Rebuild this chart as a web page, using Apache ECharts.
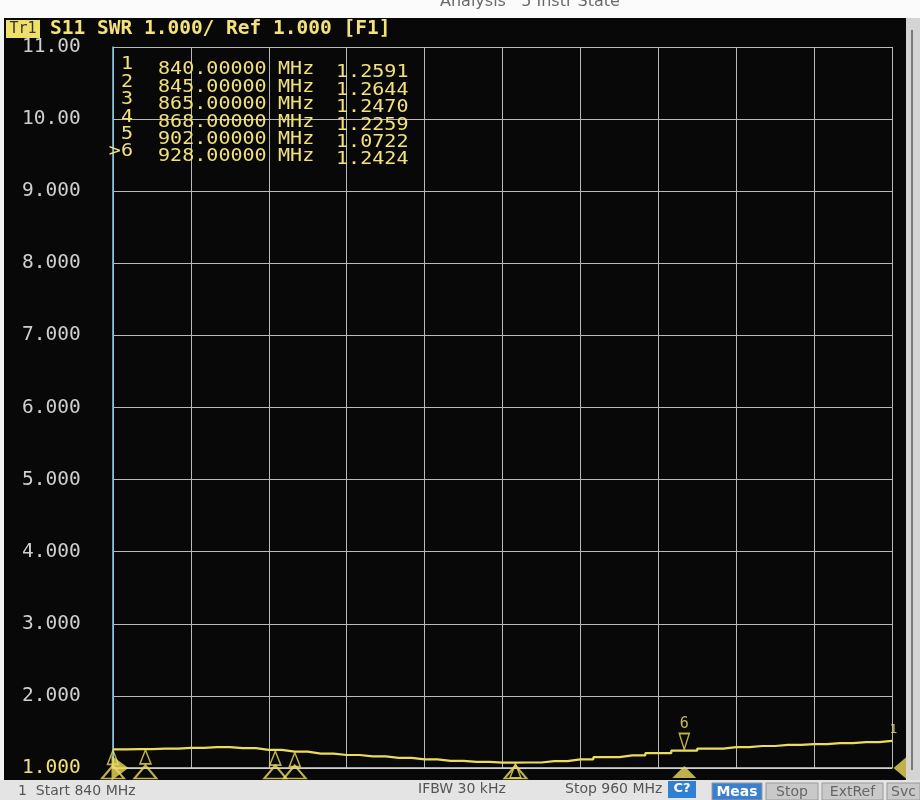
<!DOCTYPE html>
<html>
<head>
<meta charset="utf-8">
<script src="https://cdn.jsdelivr.net/npm/echarts@6/dist/echarts.min.js"></script>
<style>
html,body{margin:0;padding:0;background:#f2f2f2;}
#c{width:920px;height:800px;}
</style>
</head>
<body>
<div id="c"></div>
<script>
// ---- data ----
const freqs = [840,844,848,852,856,860,864,868,872,876,880,884,888,892,896,900,904,908,912,916,920,924,928,932,936,940,944,948,952,956,960];
const swr   = [1.259,1.262,1.270,1.280,1.290,1.275,1.252,1.226,1.200,1.180,1.160,1.140,1.120,1.100,1.085,1.075,1.076,1.095,1.120,1.150,1.175,1.205,1.242,1.270,1.290,1.305,1.320,1.330,1.345,1.360,1.375];
const markerIds    = ['1','2','3','4','5','>6'];
const markerFreqs  = [840,845,865,868,902,928];
const markerSwr    = [1.2591,1.2644,1.2470,1.2259,1.0722,1.2424];
const yTickLabels  = ['1.000','2.000','3.000','4.000','5.000','6.000','7.000','8.000','9.000','10.00','11.00'];
const headerText   = 'S11 SWR 1.000/ Ref 1.000 [F1]';
const traceTag     = 'Tr1';
const startText    = '1  Start 840 MHz';
const ifbwText     = 'IFBW 30 kHz';
const stopText     = 'Stop 960 MHz';
const topText      = 'Analysis   5 Instr State';
const softKeys     = ['Meas','Stop','ExtRef','Svc'];

const YEL = '#ecdc5c';
const TXT = '#f3e27a';
const MONO = '"DejaVu Sans Mono", "Liberation Mono", monospace';
const SANS = '"DejaVu Sans", "Liberation Sans", sans-serif';

const chart = echarts.init(document.getElementById('c'), null, {renderer:'canvas'});

const activeIdx = markerIds.length - 1;
const passive = markerFreqs.slice(0, activeIdx).map((f,i)=>[f, markerSwr[i]]);
const activePt = [[markerFreqs[activeIdx], markerSwr[activeIdx]]];

const graphics = [
  {type:'rect', shape:{x:0,y:0,width:920,height:20}, style:{fill:'#fbfbfb'}, z:0},
  {type:'text', x:440, y:-6, style:{text:topText, font:'16px '+SANS, fill:'#6a6a6a'}, z:1},
  {type:'rect', shape:{x:4,y:18,width:902,height:762}, style:{fill:'#080808'}, z:0},
  {type:'rect', shape:{x:906,y:18,width:14,height:762}, style:{fill:'#d4d4d4'}, z:0},
  {type:'rect', shape:{x:911,y:30,width:2,height:740}, style:{fill:'#7a7a7a'}, z:0},
  {type:'rect', shape:{x:0,y:780,width:920,height:20}, style:{fill:'#e4e4e4'}, z:0},
  {type:'rect', shape:{x:6,y:20,width:34,height:18}, style:{fill:'#efe06a'}, z:2},
  {type:'text', x:23, y:29, style:{text:traceTag, font:'15px '+MONO, fill:'#333', align:'center', verticalAlign:'middle'}, z:3},
  {type:'text', x:50, y:29, style:{text:headerText, font:'bold 19.5px '+MONO, fill:TXT, verticalAlign:'middle'}, z:3},
  {type:'text', x:18, y:791, style:{text:startText, font:'14px '+SANS, fill:'#555', verticalAlign:'middle'}, z:3},
  {type:'text', x:418, y:789, style:{text:ifbwText, font:'14px '+SANS, fill:'#555', verticalAlign:'middle'}, z:3},
  {type:'text', x:565, y:789, style:{text:stopText, font:'14px '+SANS, fill:'#555', verticalAlign:'middle'}, z:3},
  {type:'rect', shape:{x:668,y:781,width:28,height:17}, style:{fill:'#2f7fd3'}, z:2},
  {type:'text', x:682, y:789, style:{text:'C?', font:'bold 13px '+SANS, fill:'#fff', align:'center', verticalAlign:'middle'}, z:3}
];
const keyX = [712,766,822,887], keyW = [50,52,61,33];
softKeys.forEach((k,i)=>{
  graphics.push({type:'rect', shape:{x:keyX[i],y:783,width:keyW[i],height:17}, style:{fill: i===0?'#3a7fd0':'#c9c9c9', stroke:'#9a9a9a'}, z:2});
  graphics.push({type:'text', x:keyX[i]+keyW[i]/2, y:792, style:{text:k, font:(i===0?'bold ':'')+'14px '+SANS, fill:i===0?'#fff':'#666', align:'center', verticalAlign:'middle'}, z:3});
});
const TF = '17px '+MONO, SX = 1.18;
markerIds.forEach((id,i)=>{
  const cy = 70 + i*17.4;
  graphics.push({type:'text', x:133, y:cy-5, scaleX:SX, style:{text:id, font:TF, fill:TXT, align:'right', verticalAlign:'middle'}, z:5});
  graphics.push({type:'text', x:158, y:cy, scaleX:SX, style:{text:markerFreqs[i].toFixed(5), font:TF, fill:TXT, verticalAlign:'middle'}, z:5});
  graphics.push({type:'text', x:278, y:cy, scaleX:SX, style:{text:'MHz', font:TF, fill:TXT, verticalAlign:'middle'}, z:5});
  graphics.push({type:'text', x:336, y:cy+3, scaleX:SX, style:{text:markerSwr[i].toFixed(4), font:TF, fill:TXT, verticalAlign:'middle'}, z:5});
});

const option = {
  backgroundColor:'transparent',
  animation:false,
  grid:{left:113, right:28, top:47, bottom:32, containLabel:false},
  xAxis:{
    type:'value', min:840, max:960, interval:12,
    axisLabel:{show:false}, axisTick:{show:false},
    axisLine:{show:true, lineStyle:{color:'#d8d8d8', width:1.5}},
    splitLine:{show:true, lineStyle:{color:'#b9b9b9', width:1}}
  },
  yAxis:{
    type:'value', min:1, max:11, interval:1,
    axisTick:{show:false},
    axisLine:{show:true, lineStyle:{color:'#86c8ea', width:1.5}},
    splitLine:{show:true, lineStyle:{color:'#b9b9b9', width:1}},
    axisLabel:{
      show:true, margin:91, align:'left',
      fontFamily:MONO, fontSize:19.5,
      formatter:(v)=>yTickLabels[Math.round(v)-1],
      color:(v)=> Math.round(Number(v))===1 ? TXT : '#cfcfcf'
    }
  },
  graphic: graphics,
  series:[
    {
      type:'line', name:'S11', data:freqs.map((f,i)=>[f, swr[i]]),
      step:'middle', showSymbol:false, symbol:'none',
      lineStyle:{color:YEL, width:2.2}, z:10
    },
    {
      type:'scatter', data:passive, symbol:'triangle', symbolSize:[11,14], symbolOffset:[0,8],
      itemStyle:{color:'rgba(0,0,0,0)', borderColor:YEL, borderWidth:1.6}, z:11,
      label:{show:false}, clip:false
    },
    {
      type:'scatter', data:markerFreqs.slice(0,activeIdx).map(f=>[f,1]), symbol:'triangle',
      symbolSize:[22,13], symbolOffset:[0,4],
      itemStyle:{color:'rgba(0,0,0,0)', borderColor:YEL, borderWidth:2}, z:11, clip:false
    },
    {
      type:'scatter', data:activePt, symbol:'path://M0,0 L10,0 L5,12 Z', symbolSize:[10,16], symbolOffset:[0,-9],
      itemStyle:{color:'rgba(0,0,0,0)', borderColor:YEL, borderWidth:1.6}, z:11, clip:false,
      label:{show:true, formatter:'6', position:'top', distance:1, color:TXT, fontFamily:MONO, fontSize:15}
    },
    {
      type:'scatter', data:[[markerFreqs[activeIdx],1]], symbol:'triangle', symbolSize:[24,12], symbolOffset:[0,4],
      itemStyle:{color:YEL}, z:11, clip:false
    },
    {
      type:'scatter', data:[[840,1]], symbol:'path://M0,0 L10,6 L0,12 Z', symbolSize:[17,25], symbolOffset:[7,0],
      itemStyle:{color:YEL}, z:12, clip:false
    },
    {
      type:'scatter', data:[[960,1]], symbol:'path://M10,0 L0,6 L10,12 Z', symbolSize:[13,22], symbolOffset:[8,0],
      itemStyle:{color:YEL}, z:12, clip:false
    },
    {
      type:'scatter', data:[[freqs[freqs.length-1], swr[swr.length-1]]], symbolSize:1,
      itemStyle:{color:'rgba(0,0,0,0)'}, z:12, clip:false,
      label:{show:true, formatter:'1', position:[-2,-17], color:TXT, fontFamily:MONO, fontSize:13}
    }
  ]
};
chart.setOption(option);
</script>
</body>
</html>
